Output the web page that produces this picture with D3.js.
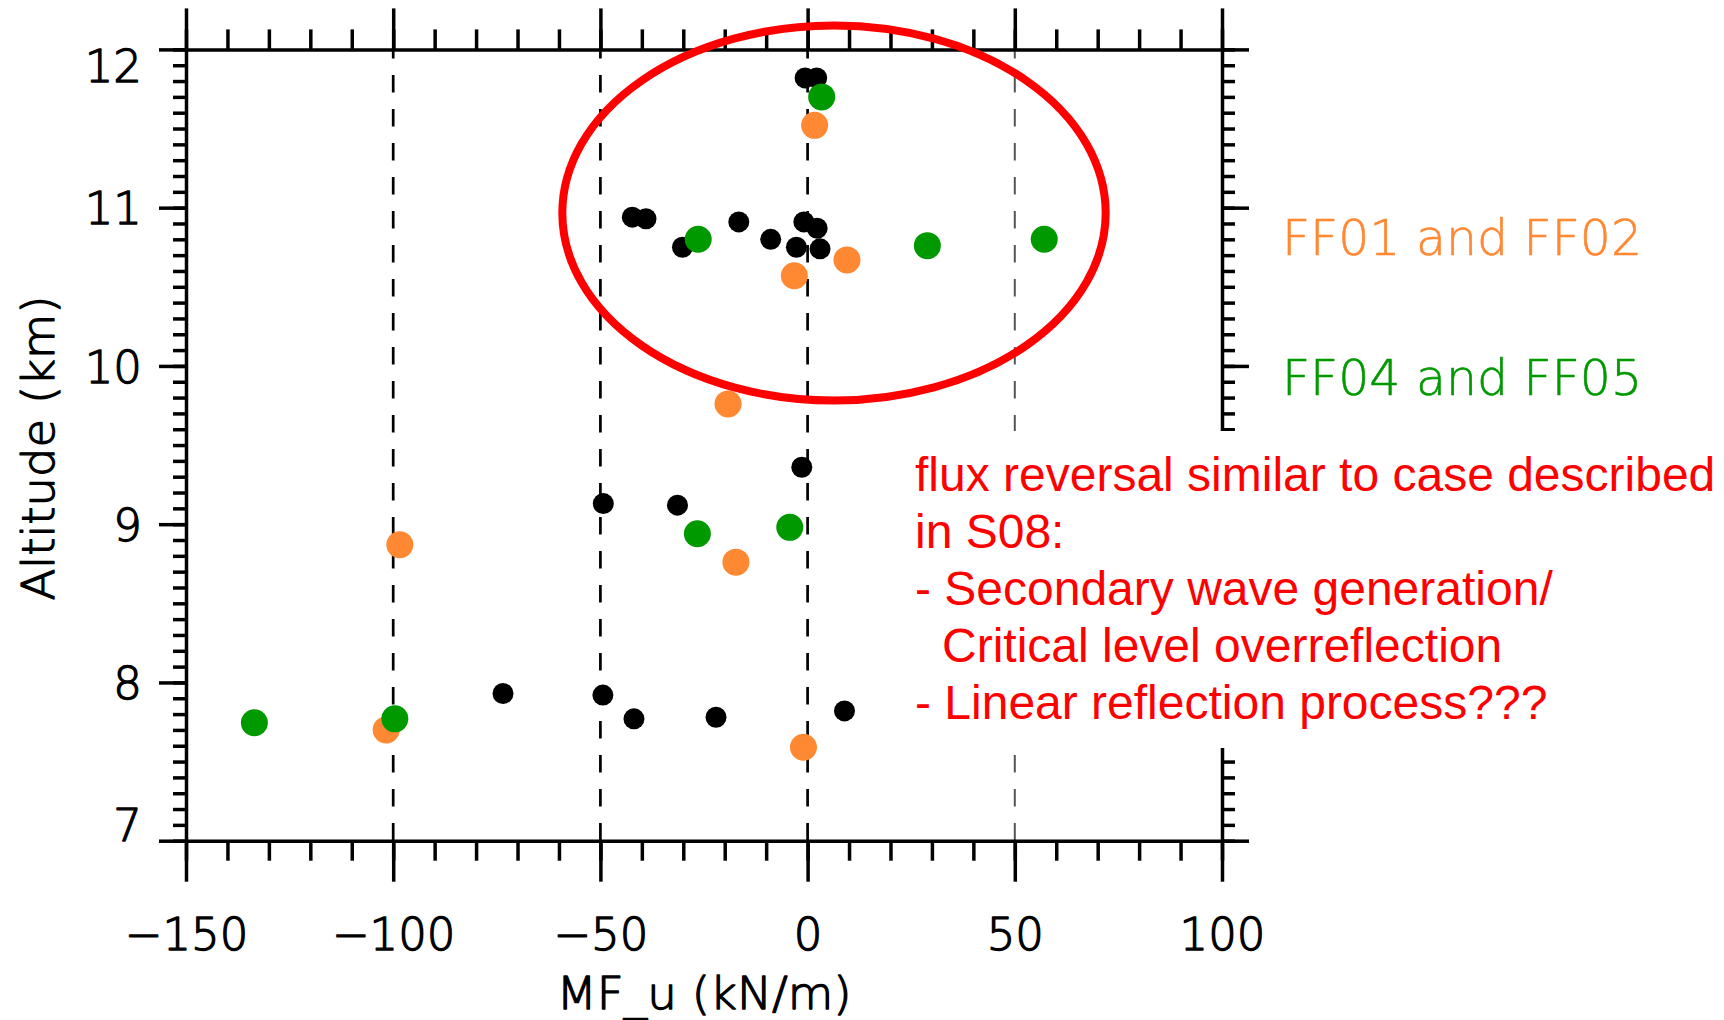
<!DOCTYPE html>
<html><head><meta charset="utf-8">
<script src="https://cdn.jsdelivr.net/npm/d3@7"></script>
<style>html,body{margin:0;padding:0;background:#fff;overflow:hidden}</style>
</head><body><svg id="chart" width="1724" height="1020"></svg>
<script>
// ---- data ----
const xTicks = [-150, -100, -50, 0, 50, 100];
const xMinorTicks = d3.range(-150, 101, 10);
const yTicks = [7, 8, 9, 10, 11, 12];
const yMinorTicks = d3.range(70, 121).map(d => d / 10);
const refLines = [-100, -50, 0, 50];

const blackX = [-0.6, 2.2, -42.3, -39.0, -30.2, -16.6, -8.9, -2.7, -0.9, 2.3, 3.0, -1.4, -49.3, -31.4, -73.5, -49.4, -41.9, -22.1, 8.9];
const blackY = [11.82, 11.82, 10.94, 10.93, 10.75, 10.91, 10.80, 10.75, 10.91, 10.87, 10.74, 9.36, 9.13, 9.12, 7.93, 7.92, 7.77, 7.78, 7.82];

const orangeX = [1.7, 9.5, -3.2, -19.2, -98.4, -17.3, -101.7, -1.0];
const orangeY = [11.52, 10.67, 10.57, 9.76, 8.87, 8.76, 7.70, 7.59];

const greenX = [3.4, -26.4, 28.9, 57.1, -26.6, -4.3, -133.5, -99.6];
const greenY = [11.70, 10.80, 10.76, 10.80, 8.94, 8.98, 7.745, 7.77];

const legendLabels = ["FF01 and FF02", "FF04 and FF05"];
const noteLines = [
  "flux reversal similar to case described",
  "in S08:",
  "- Secondary wave generation/",
  "Critical level overreflection",
  "- Linear reflection process???"
];
const ellipseCenter = [6.37, 10.966];
const ellipseRadii = [65.56, 1.185];

// ---- layout ----
const W = 1724, H = 1020;
const L = 186, R = 1222, T = 49.4, B = 840.7;
const ORANGE = "#FF8833", GREEN = "#009900";
const tickFont = "'DejaVu Sans', sans-serif";
const thinWeight = 300;

const svg = d3.select("#chart");
svg.append("rect").attr("width", W).attr("height", H).attr("fill", "#fff");

const x = d3.scaleLinear().domain([-150, 100]).range([L, R]);
const y = d3.scaleLinear().domain([7, 12]).range([B, T]);

// dashed reference lines
svg.append("g").selectAll("line").data(refLines).join("line")
  .attr("x1", d => x(d)).attr("x2", d => x(d))
  .attr("y1", y(12)).attr("y2", y(7))
  .attr("stroke", d => d === 50 ? "#555" : "#000")
  .attr("stroke-width", d => d === 50 ? 2 : 2.7)
  .attr("stroke-dasharray", "17.5 16.5")
  .attr("stroke-dashoffset", 8.5);

function styleAxis(g, sw) {
  g.attr("font-size", null).attr("font-family", null);
  g.selectAll(".tick line").attr("stroke", "#000").attr("stroke-width", sw);
  g.select(".domain").attr("stroke", "#000").attr("stroke-width", sw);
}
function hershey(sel, color, sw) {
  sel.attr("font-family", tickFont).attr("font-weight", thinWeight)
    .attr("fill", color).attr("stroke", color).attr("stroke-width", sw)
    .attr("stroke-linejoin", "round");
}

// minor ticks
const minorSW = 3.5;
const gxbm = svg.append("g").attr("transform", `translate(0,${B})`)
  .call(d3.axisBottom(x).tickValues(xMinorTicks).tickSize(20).tickSizeOuter(0).tickFormat(""));
styleAxis(gxbm, minorSW); gxbm.select(".domain").remove();
const gxtm = svg.append("g").attr("transform", `translate(0,${T})`)
  .call(d3.axisTop(x).tickValues(xMinorTicks).tickSize(20).tickSizeOuter(0).tickFormat(""));
styleAxis(gxtm, minorSW); gxtm.select(".domain").remove();
const gylm = svg.append("g").attr("transform", `translate(${L},0)`)
  .call(d3.axisLeft(y).tickValues(yMinorTicks).tickSize(13).tickSizeOuter(0).tickFormat(""));
styleAxis(gylm, minorSW); gylm.select(".domain").remove();
const gyrm = svg.append("g").attr("transform", `translate(${R},0)`)
  .call(d3.axisRight(y).tickValues(yMinorTicks).tickSize(13).tickSizeOuter(0).tickFormat(""));
styleAxis(gyrm, minorSW); gyrm.select(".domain").remove();

// major axes
const gxb = svg.append("g").attr("transform", `translate(0,${B})`)
  .call(d3.axisBottom(x).tickValues(xTicks).tickSize(41).tickSizeOuter(0).tickFormat(d3.format("d")));
styleAxis(gxb, 3.5);
gxb.selectAll("text").attr("y", 109).attr("dy", 0).attr("font-size", 45)
  .call(hershey, "#000", 1.3);

const gxt = svg.append("g").attr("transform", `translate(0,${T})`)
  .call(d3.axisTop(x).tickValues(xTicks).tickSize(41).tickSizeOuter(0).tickFormat(""));
styleAxis(gxt, 3.5);

const gyl = svg.append("g").attr("transform", `translate(${L},0)`)
  .call(d3.axisLeft(y).tickValues(yTicks).tickSize(27).tickSizeOuter(0).tickFormat(d3.format("d")));
styleAxis(gyl, 3.5);
gyl.selectAll("text").attr("x", -44)
  .attr("dy", d => d === 12 ? "0.72em" : (d === 7 ? "0em" : "0.36em"))
  .attr("font-size", 45).call(hershey, "#000", 1.3);

const gyr = svg.append("g").attr("transform", `translate(${R},0)`)
  .call(d3.axisRight(y).tickValues(yTicks).tickSize(27).tickSizeOuter(0).tickFormat(""));
styleAxis(gyr, 3.5);

// axis titles
svg.append("text").text("MF_u (kN/m)")
  .attr("x", (L + R) / 2).attr("y", 1009).attr("text-anchor", "middle")
  .attr("font-size", 45).call(hershey, "#000", 1.3)
  .attr("textLength", 295).attr("lengthAdjust", "spacingAndGlyphs");
svg.append("text").text("Altitude (km)")
  .attr("transform", `translate(54,${(T + B) / 2 + 3}) rotate(-90)`)
  .attr("text-anchor", "middle")
  .attr("font-size", 45).call(hershey, "#000", 1.3)
  .attr("textLength", 305).attr("lengthAdjust", "spacingAndGlyphs");

// points
function dots(xs, ys, color, r) {
  svg.append("g").selectAll("circle").data(xs.map((v, i) => [v, ys[i]])).join("circle")
    .attr("cx", d => x(d[0])).attr("cy", d => y(d[1])).attr("r", r).attr("fill", color);
}
dots(blackX, blackY, "#000", 10.5);
dots(orangeX, orangeY, ORANGE, 13.5);
dots(greenX, greenY, GREEN, 13.5);

// red ellipse
svg.append("ellipse")
  .attr("cx", x(ellipseCenter[0])).attr("cy", y(ellipseCenter[1]))
  .attr("rx", x(ellipseCenter[0] + ellipseRadii[0]) - x(ellipseCenter[0]))
  .attr("ry", y(ellipseCenter[1] - ellipseRadii[1]) - y(ellipseCenter[1]))
  .attr("fill", "none").attr("stroke", "#FF0000").attr("stroke-width", 8);

// legend labels
svg.append("g").selectAll("text").data(legendLabels).join("text")
  .text(d => d)
  .attr("x", 1282).attr("y", (d, i) => [255, 395][i])
  .attr("font-size", 50)
  .each(function (d, i) { d3.select(this).call(hershey, [ORANGE, GREEN][i], 0.6); })
  .attr("font-weight", 200)
  .attr("textLength", 360).attr("lengthAdjust", "spacingAndGlyphs");

// annotation box and text
svg.append("rect").attr("x", 900).attr("y", 431).attr("width", W - 900).attr("height", 317).attr("fill", "#fff");
svg.append("g").selectAll("text").data(noteLines).join("text")
  .text(d => d)
  .attr("x", (d, i) => i === 3 ? 942 : 915)
  .attr("y", (d, i) => 491 + i * 57)
  .attr("fill", "#FF0000")
  .attr("font-family", "'Liberation Sans', Arial, sans-serif").attr("font-size", 48);
</script></body></html>
